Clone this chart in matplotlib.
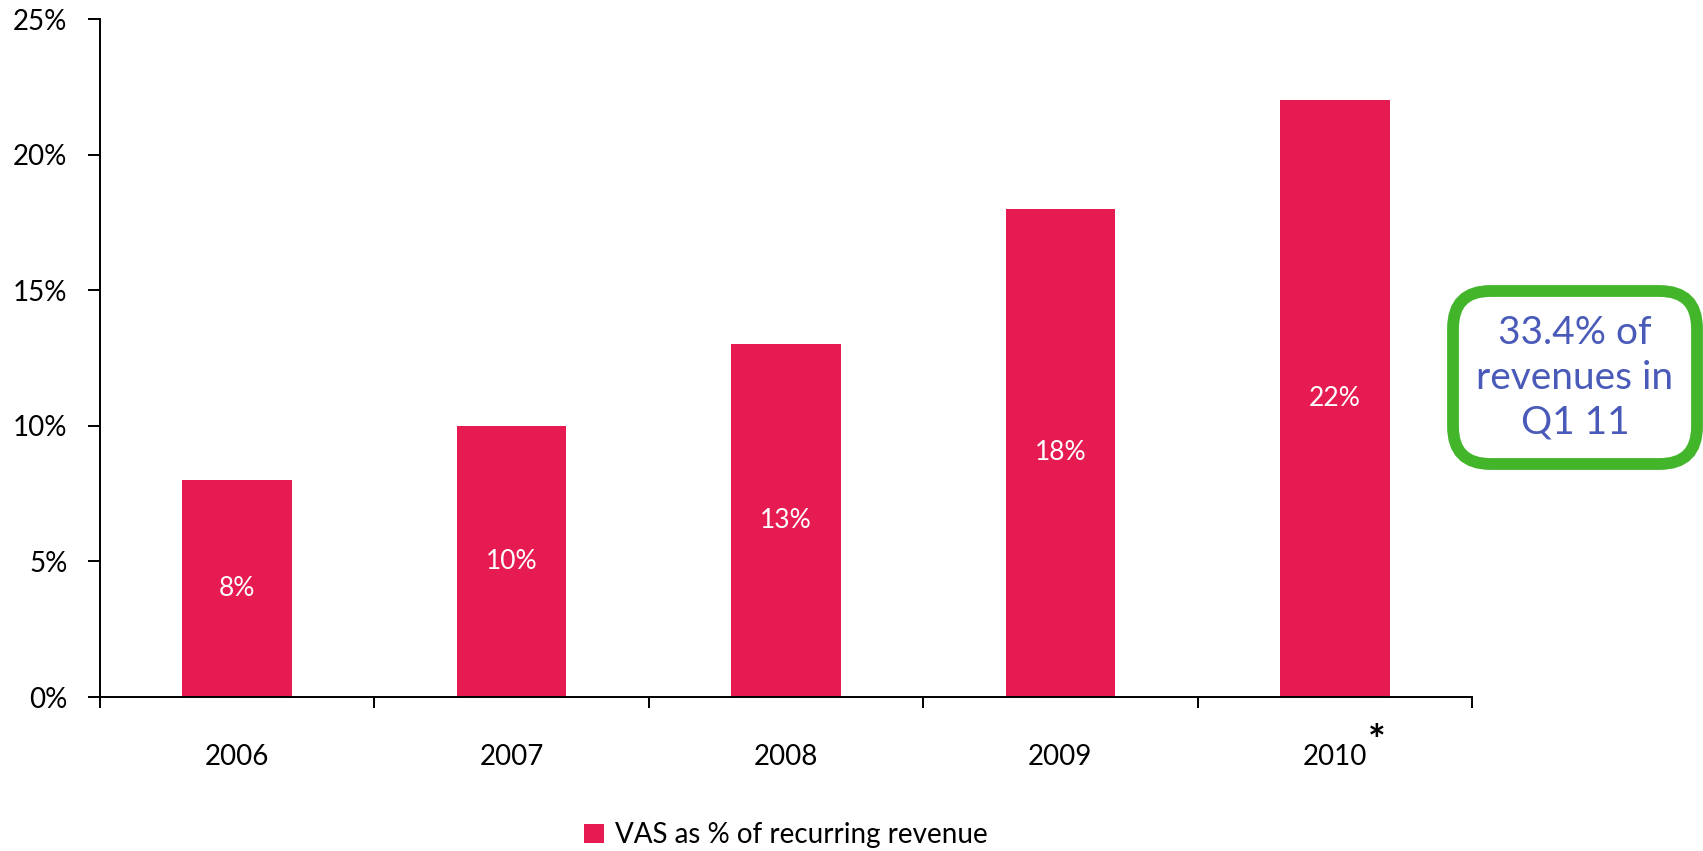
import matplotlib.pyplot as plt
from matplotlib.patches import FancyBboxPatch
from matplotlib.ticker import FixedLocator, FuncFormatter

plt.rcParams['font.family'] = ['Lato', 'DejaVu Sans']

years = ['2006', '2007', '2008', '2009', '2010']
vas_share = [8, 10, 13, 18, 22]
series_name = 'VAS as % of recurring revenue'
note_text = '33.4% of\nrevenues in\nQ1 11'

bar_color = '#e61b51'
W, H = 1703, 851

fig = plt.figure(figsize=(W / 100, H / 100), dpi=100)
ax = fig.add_axes([100 / W, 1 - 697 / H, 1372 / W, 678 / H])

x = list(range(len(years)))
bars = ax.bar(x, vas_share, width=0.4, color=bar_color, label=series_name)

# value labels in the middle of each bar
for bar, v in zip(bars, vas_share):
    ax.text(bar.get_x() + bar.get_width() / 2, v / 2, f'{v}%',
            ha='center', va='center', color='white', fontsize=19)

ax.set_xlim(-0.5, len(years) - 0.5)
ax.set_ylim(0, 25)
ax.set_yticks(range(0, 26, 5))
ax.yaxis.set_major_formatter(FuncFormatter(lambda v, p: f'{v:.0f}%'))

# ticks on category boundaries, labels at bar centres
ax.xaxis.set_major_locator(FixedLocator([i - 0.5 for i in range(len(years) + 1)]))
ax.xaxis.set_major_formatter(FuncFormatter(lambda v, p: ''))
ax.xaxis.set_minor_locator(FixedLocator(x))
ax.set_xticklabels(years, minor=True)

ax.tick_params(axis='x', which='major', direction='out', length=8, width=1.4)
ax.tick_params(axis='x', which='minor', length=0, pad=34, labelsize=20)
ax.tick_params(axis='y', direction='out', length=8.5, width=1.4, pad=15, labelsize=20)

for s in ['top', 'right']:
    ax.spines[s].set_visible(False)
for s in ['left', 'bottom']:
    ax.spines[s].set_linewidth(1.4)

# footnote mark raised after the last year
ax.annotate('*', xy=(4, 0), xycoords=('data', 'axes fraction'),
            xytext=(30, -33), textcoords='offset points',
            ha='center', va='center', fontsize=30, fontweight='bold')

ax.legend(loc='center', bbox_to_anchor=(0.5, -0.2035), frameon=False,
          fontsize=20, handlelength=0.7, handleheight=0.7, handletextpad=0.4)

# callout box on the right
box = FancyBboxPatch((1453 / W, 1 - 464 / H), 244 / W, 173 / H,
                     boxstyle='round,pad=0,rounding_size=0.022',
                     transform=fig.transFigure, facecolor='white',
                     edgecolor='#43b52b', linewidth=8.5, mutation_aspect=2.0)
fig.patches.append(box)
fig.text(1575 / W, 1 - 378 / H, note_text, ha='center', va='center',
         color='#4a5ab8', fontsize=28, linespacing=1.3)

fig.savefig('out.png', dpi=100)
